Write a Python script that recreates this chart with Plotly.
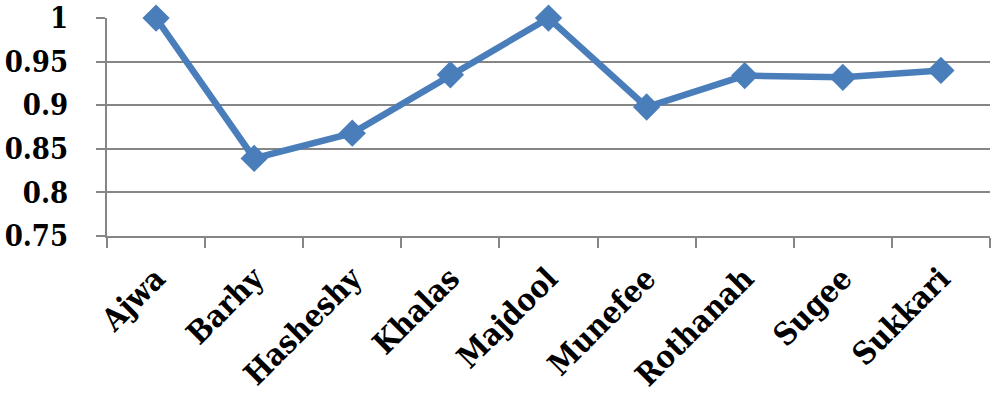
import plotly.graph_objects as go

# Date varieties and their values
varieties = ['Ajwa', 'Barhy', 'Hasheshy', 'Khalas', 'Majdool',
             'Munefee', 'Rothanah', 'Sugee', 'Sukkari']
scores = [1.0, 0.839, 0.868, 0.935, 1.0, 0.898, 0.934, 0.932, 0.940]

y_ticks = [0.75, 0.8, 0.85, 0.9, 0.95, 1]
y_tick_text = ['0.75', '0.8', '0.85', '0.9', '0.95', '1']

line_color = '#4A7EBB'
grid_color = '#868686'
font_family = 'DejaVu Serif Condensed, DejaVu Serif'

fig = go.Figure(go.Scatter(
    x=varieties, y=scores,
    mode='lines+markers',
    line=dict(color=line_color, width=6.5),
    marker=dict(symbol='diamond', size=21, color=line_color),
    cliponaxis=False,
))

fig.update_layout(
    width=996, height=400,
    margin=dict(l=107, r=6, t=18, b=164),
    paper_bgcolor='white', plot_bgcolor='white',
    showlegend=False,
    font=dict(family=font_family, color='black'),
)

fig.update_xaxes(
    type='category',
    range=[-0.5, len(varieties) - 0.5],
    tickangle=-45,
    tickfont=dict(family=font_family, size=31, weight='bold'),
    ticks='outside', tickson='boundaries', ticklen=10, tickwidth=2,
    tickcolor=grid_color,
    ticklabelstandoff=10,
    showline=True, linecolor=grid_color, linewidth=2,
    showgrid=False, automargin=False,
)

fig.update_yaxes(
    range=[0.75, 1.0001],
    tickvals=y_ticks, ticktext=y_tick_text,
    tickfont=dict(family=font_family, size=29, weight='bold'),
    ticks='outside', ticklen=9, tickwidth=2, tickcolor=grid_color,
    ticklabelstandoff=22, ticklabeloverflow='allow',
    showline=True, linecolor=grid_color, linewidth=2,
    showgrid=True, gridcolor=grid_color, gridwidth=2,
    zeroline=False, automargin=False,
)

# drop the default page margin so the figure fills the window
fig.write_html('out.html', config={'displayModeBar': False},
               post_script="document.body.style.margin='0';")
